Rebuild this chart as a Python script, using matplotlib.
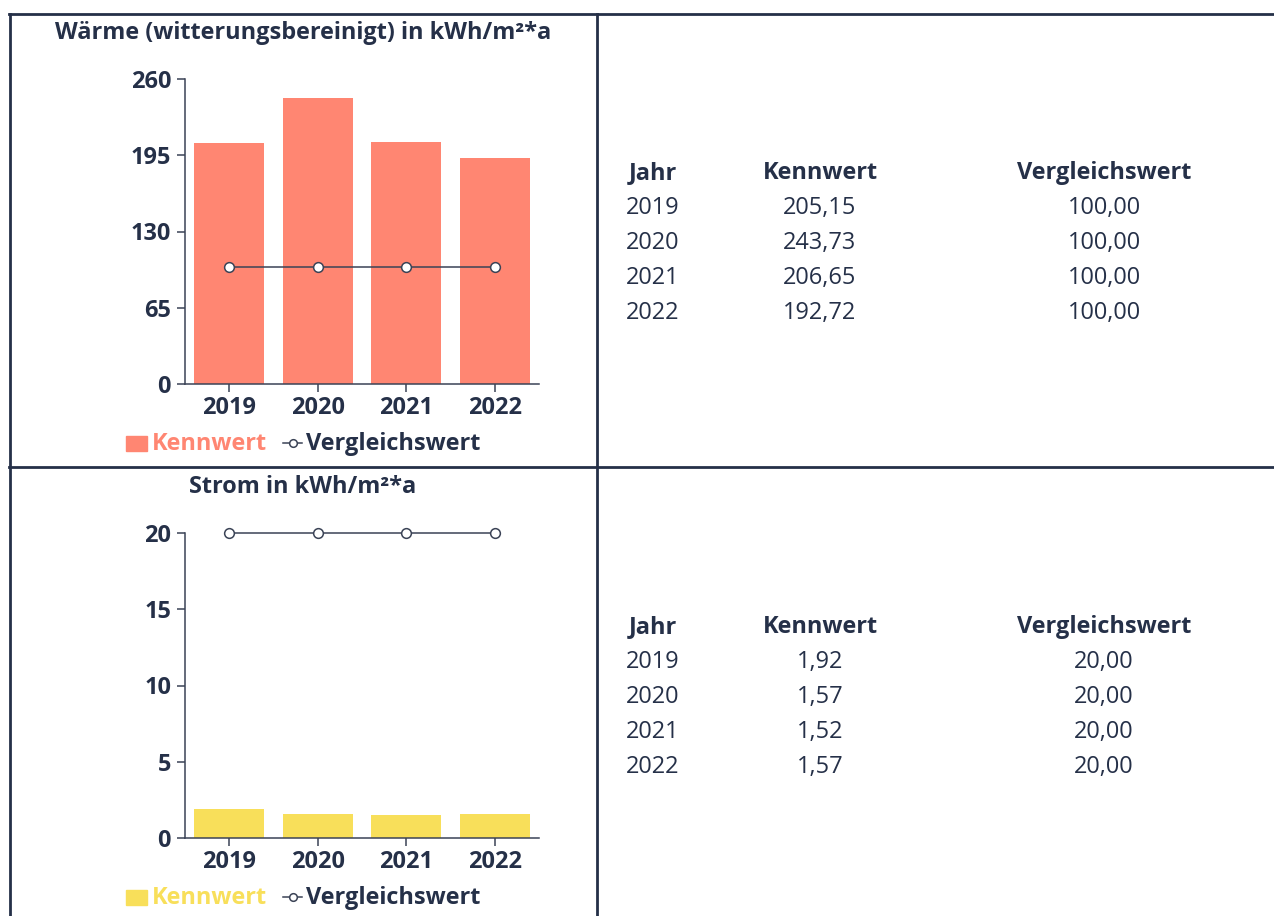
import matplotlib
matplotlib.use("Agg")
import matplotlib.pyplot as plt
from matplotlib.lines import Line2D
from matplotlib.patches import Rectangle

years = ["2019", "2020", "2021", "2022"]
waerme_kennwert = [205.15, 243.73, 206.65, 192.72]
waerme_vergleich = [100.0, 100.0, 100.0, 100.0]
waerme_ticks = [0, 65, 130, 195, 260]
strom_kennwert = [1.92, 1.57, 1.52, 1.57]
strom_vergleich = [20.0, 20.0, 20.0, 20.0]
strom_ticks = [0, 5, 10, 15, 20]

W, H = 1274, 916
DARK = "#253048"
LINE = "#3b4356"
SALMON = "#FF8672"
YELLOW = "#F8DF5A"
FONT = "Open Sans"
FS = 16.9

plt.rcParams["font.family"] = [FONT, "DejaVu Sans"]

fig = plt.figure(figsize=(W / 100, H / 100), dpi=100)


def fx(x):
    return x / W


def fy(y):
    return 1 - y / H


def hline(x0, x1, y, lw=2.0):
    fig.add_artist(Line2D([fx(x0), fx(x1)], [fy(y), fy(y)], color=DARK, lw=lw,
                          transform=fig.transFigure))


def vline(x, y0, y1, lw=2.0):
    fig.add_artist(Line2D([fx(x), fx(x)], [fy(y0), fy(y1)], color=DARK, lw=lw,
                          transform=fig.transFigure))


# table grid
hline(8.5, W, 14)
hline(8.5, W, 467)
vline(10, 14, H)
vline(597, 14, H)


def fmt(v):
    return f"{v:.2f}".replace(".", ",")


def chart(top, title, kennwert, vergleich, ticks, color):
    # top: pixel y of the max tick
    x0, x1 = 185, 539
    y_max, y_zero = top, top + 305
    ax = fig.add_axes([fx(x0), fy(y_zero), (x1 - x0) / W, (y_zero - y_max) / H])
    xs = list(range(len(years)))
    ax.bar(xs, kennwert, width=0.79, color=color, zorder=2)
    ax.plot(xs, vergleich, color=LINE, lw=1.1, marker="o", markersize=7,
            markerfacecolor="white", markeredgecolor=LINE, markeredgewidth=1.1,
            zorder=3, clip_on=False)
    ax.set_xlim(-0.5, len(years) - 0.5)
    ax.set_ylim(ticks[0], ticks[-1])
    ax.set_yticks(ticks)
    ax.set_yticklabels([str(t) for t in ticks])
    ax.set_xticks(xs)
    ax.set_xticklabels(years)
    for s in ["top", "right"]:
        ax.spines[s].set_visible(False)
    for s in ["left", "bottom"]:
        ax.spines[s].set_color(LINE)
        ax.spines[s].set_linewidth(1.1)
    ax.tick_params(axis="y", length=6, width=1.1, color=LINE, pad=4,
                   labelsize=FS, labelcolor=DARK)
    ax.tick_params(axis="x", length=6, width=1.1, color=LINE, pad=3,
                   labelsize=FS, labelcolor=DARK)
    for lab in ax.get_xticklabels() + ax.get_yticklabels():
        lab.set_fontweight("bold")
    ax.patch.set_alpha(0)

    # title
    fig.text(fx(303), fy(top - 40), title, ha="center", va="baseline",
             fontsize=FS, fontweight="bold", color=DARK)

    # legend
    ly = y_zero + 58
    fig.add_artist(Rectangle((fx(126), fy(ly + 9)), 21 / W, 15 / H,
                             color=color, transform=fig.transFigure))
    fig.text(fx(152), fy(ly + 8), "Kennwert", ha="left", va="baseline",
             fontsize=FS, fontweight="bold", color=color)
    fig.add_artist(Line2D([fx(283), fx(302)], [fy(ly + 1), fy(ly + 1)],
                          color=LINE, lw=1.1, transform=fig.transFigure))
    fig.add_artist(Line2D([fx(292.5)], [fy(ly + 1)], marker="o", markersize=5.5,
                          markerfacecolor="white", markeredgecolor=LINE,
                          markeredgewidth=1.1, transform=fig.transFigure))
    fig.text(fx(306), fy(ly + 8), "Vergleichswert", ha="left", va="baseline",
             fontsize=FS, fontweight="bold", color=DARK)


def table(header_base, kennwert, vergleich):
    cols = [653, 820, 1104]
    heads = ["Jahr", "Kennwert", "Vergleichswert"]
    for cx, h in zip(cols, heads):
        fig.text(fx(cx), fy(header_base), h, ha="center", va="baseline",
                 fontsize=FS, fontweight="bold", color=DARK)
    for i, (yr, k, v) in enumerate(zip(years, kennwert, vergleich)):
        yy = header_base + 35 * (i + 1)
        for cx, s in zip(cols, [yr, fmt(k), fmt(v)]):
            fig.text(fx(cx), fy(yy), s, ha="center", va="baseline",
                     fontsize=FS, color=DARK)


chart(79, "Wärme (witterungsbereinigt) in kWh/m²*a", waerme_kennwert,
      waerme_vergleich, waerme_ticks, SALMON)
chart(533, "Strom in kWh/m²*a", strom_kennwert, strom_vergleich,
      strom_ticks, YELLOW)
table(179, waerme_kennwert, waerme_vergleich)
table(633, strom_kennwert, strom_vergleich)

fig.savefig("out.png", dpi=100)
